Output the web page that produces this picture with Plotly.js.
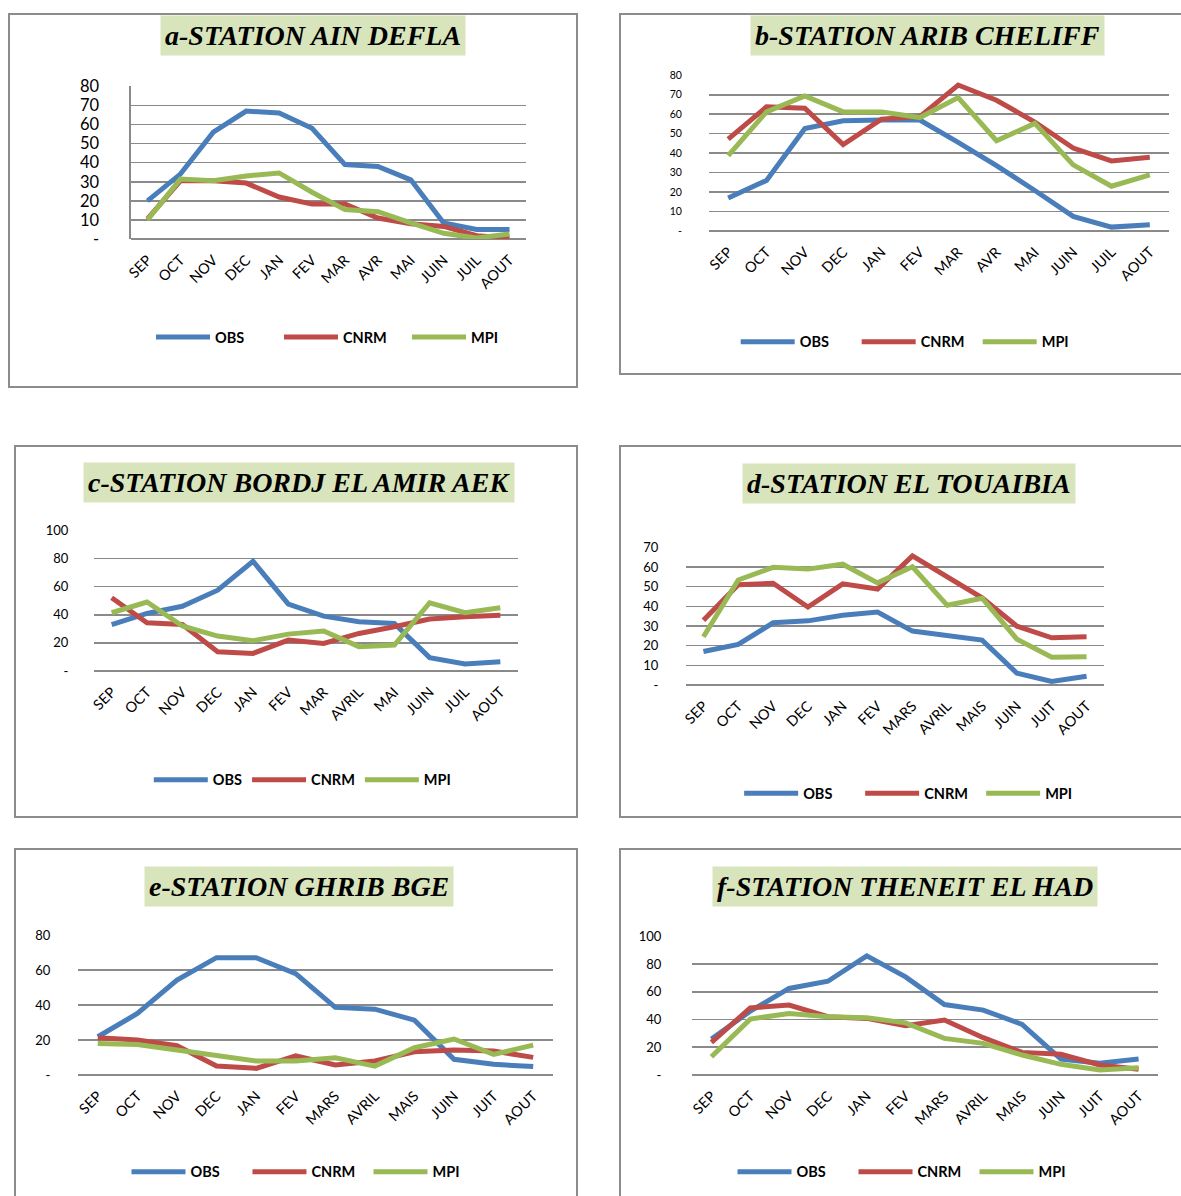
<!DOCTYPE html>
<html>
<head>
<meta charset="utf-8">
<script src="https://cdn.plot.ly/plotly-3.0.1.min.js"></script>
<style>
  html, body { margin: 0; padding: 0; background: #ffffff; }
  body { width: 1181px; height: 1196px; position: relative; overflow: hidden; }
  .panel { position: absolute; box-sizing: border-box; border: 2px solid #8c8c8c; background: #fff; }
</style>
</head>
<body>
<div id="pa" class="panel"></div>
<div id="pb" class="panel"></div>
<div id="pc" class="panel"></div>
<div id="pd" class="panel"></div>
<div id="pe" class="panel"></div>
<div id="pf" class="panel"></div>
<script>
// Month labels used on the category axes
const monthsA = ["SEP", "OCT", "NOV", "DEC", "JAN", "FEV", "MAR", "AVR", "MAI", "JUIN", "JUIL", "AOUT"];
const monthsC = ["SEP", "OCT", "NOV", "DEC", "JAN", "FEV", "MAR", "AVRIL", "MAI", "JUIN", "JUIL", "AOUT"];
const monthsD = ["SEP", "OCT", "NOV", "DEC", "JAN", "FEV", "MARS", "AVRIL", "MAIS", "JUIN", "JUIT", "AOUT"];

// a - Ain Defla
const obsA  = [20, 34, 56, 67, 66, 58, 39, 38, 31, 8.4, 5, 5];
const cnrmA = [10.5, 30.5, 30.5, 29.3, 22, 18.3, 18.3, 11, 8, 6.6, 1.7, 0.5];
const mpiA  = [10, 31.4, 30.5, 33, 34.6, 24.5, 15.4, 14.3, 8.4, 3, 0.5, 2.6];

// b - Arib Cheliff
const obsB  = [17, 26, 52.7, 56.6, 57, 57, 45.5, 33.6, 20.8, 7.5, 2, 3.2];
const cnrmB = [47.2, 63.8, 63.1, 44.4, 57.5, 58.8, 75, 67.2, 56, 42.6, 36, 37.9];
const mpiB  = [38.7, 61.2, 69.4, 61.2, 61.2, 58.3, 68.6, 46.4, 55.3, 34, 23, 28.8];

// c - Bordj El Amir AEK
const obsC  = [33, 41, 46, 57.4, 78, 47.5, 39, 35, 33.8, 9.5, 5, 6.6];
const cnrmC = [52, 34.3, 33, 13.7, 12.5, 22, 19.6, 26.7, 31.4, 36.9, 38.5, 39.7];
const mpiC  = [41.4, 49, 32, 24.8, 21.5, 26.2, 28.4, 17.3, 18.4, 48.5, 41.4, 45];

// d - El Touaibia
const obsD  = [17, 20.6, 31.6, 32.6, 35.4, 37.1, 27.4, 25, 22.8, 6, 1.8, 4.4];
const cnrmD = [32.9, 51, 51.7, 39.6, 51.4, 48.8, 65.6, 54.7, 44.3, 29.9, 24, 24.5];
const mpiD  = [24.5, 53.4, 59.8, 58.9, 61.4, 51.9, 60.1, 40.5, 44.1, 23.3, 14.1, 14.4];

// e - Ghrib BGE
const obsE  = [21.9, 35.2, 54.3, 67.2, 67.2, 58, 38.7, 37.7, 31.4, 9, 6.1, 4.8];
const cnrmE = [21.3, 20, 16.8, 5.1, 3.8, 10.9, 5.7, 8, 13.3, 14.3, 13.7, 10.1];
const mpiE  = [18.1, 17.5, 14.3, 11, 8, 8, 9.9, 5.1, 15.6, 20.6, 11.8, 17.1];

// f - Theneit El Had
const obsF  = [25.9, 46, 62.4, 67.6, 85.9, 70.7, 50.8, 46.8, 36.5, 11.5, 8.4, 11.5];
const cnrmF = [23.5, 48.4, 50.4, 42, 40.8, 35.5, 39.6, 26.9, 16.3, 14.9, 7.2, 4.1];
const mpiF  = [13.2, 40.3, 44.4, 42, 41.2, 37.6, 26.4, 22.8, 14.4, 7.7, 3.6, 5.3];

// y-axis tick values per station
const ticksA = [0, 10, 20, 30, 40, 50, 60, 70, 80];
const ticksB = [0, 10, 20, 30, 40, 50, 60, 70, 80];
const ticksC = [0, 20, 40, 60, 80, 100];
const ticksD = [0, 10, 20, 30, 40, 50, 60, 70];
const ticksE = [0, 20, 40, 60, 80];
const ticksF = [0, 20, 40, 60, 80, 100];

const seriesNames = ["OBS", "CNRM", "MPI"];
const seriesColors = ["#4A7EBB", "#BE4B48", "#98B954"];

const titles = [
  "a-STATION AIN DEFLA", "b-STATION ARIB CHELIFF", "c-STATION BORDJ EL AMIR AEK",
  "d-STATION EL TOUAIBIA", "e-STATION GHRIB BGE", "f-STATION THENEIT EL HAD"
];

function tickText(vals) { return vals.map(v => v === 0 ? "-" : String(v)); }

// Panel geometry: box position/size in page pixels, plot margins, title/legend centres (box pixels)
// lw = legend entry width (0 = sized from the label text)
const panels = [
  { id: "pa", box: [8, 13, 570, 375],  m: [121, 54, 71, 151],  title: [303, 20], legend: [333, 322], lw: 59, months: monthsA, data: [obsA, cnrmA, mpiA], ticks: ticksA, yfont: 16.5, ylen: 27, axisLine: true, tfont: 28 },
  { id: "pb", box: [619, 13, 580, 362], m: [87.5, 31.8, 59.7, 146], title: [306, 20], legend: [296, 327], lw: 52, months: monthsA, data: [obsB, cnrmB, mpiB], ticks: ticksB, yfont: 10.5, ylen: 24, axisLine: false, tfont: 28 },
  { id: "pc", box: [14, 445, 564, 373], m: [78.4, 62, 83.3, 148.7], title: [283.5, 36], legend: [287, 333], lw: 0, months: monthsC, data: [obsC, cnrmC, mpiC], ticks: ticksC, yfont: 13, ylen: 22, axisLine: false, tfont: 28 },
  { id: "pd", box: [619, 445, 580, 373], m: [65.3, 96.6, 99.7, 134.3], title: [288.5, 36], legend: [300, 346], lw: 52, months: monthsD, data: [obsD, cnrmD, mpiD], ticks: ticksD, yfont: 13, ylen: 24, axisLine: false, tfont: 28 },
  { id: "pe", box: [14, 848, 564, 360], m: [62.3, 27.3, 85.3, 134.7], title: [283, 36.5], legend: [292, 322], lw: 52, months: monthsD, data: [obsE, cnrmE, mpiE], ticks: ticksE, yfont: 13, ylen: 24, axisLine: false, tfont: 28 },
  { id: "pf", box: [619, 848, 580, 360], m: [71, 43, 86.3, 134.7], title: [283.5, 36.5], legend: [293, 322], lw: 52, months: monthsD, data: [obsF, cnrmF, mpiF], ticks: ticksF, yfont: 13, ylen: 27, axisLine: false, tfont: 28 }
];

panels.forEach((p, i) => {
  const el = document.getElementById(p.id);
  const [bx, by, bw, bh] = p.box;
  el.style.left = bx + "px"; el.style.top = by + "px";
  el.style.width = bw + "px"; el.style.height = bh + "px";

  const [l, r, t, b] = p.m;
  const pw = bw - l - r, ph = bh - t - b;
  const px = x => (x - l) / pw;
  const py = y => 1 - (y - t) / ph;

  const traces = p.data.map((vals, k) => ({
    type: "scatter", mode: "lines",
    x: p.months, y: vals, name: seriesNames[k],
    line: { color: seriesColors[k], width: 5 },
    hoverinfo: "skip"
  }));

  const ymax = p.ticks[p.ticks.length - 1];
  const layout = {
    width: bw, height: bh,
    margin: { l: l, r: r, t: t, b: b, pad: 0 },
    paper_bgcolor: "rgba(0,0,0,0)", plot_bgcolor: "rgba(0,0,0,0)",
    font: { family: "Lato, 'Liberation Sans', sans-serif", color: "#000" },
    showlegend: true,
    legend: {
      orientation: "h", x: px(p.legend[0]), y: py(p.legend[1]),
      xanchor: "center", yanchor: "middle",
      font: { size: 14.5, weight: "bold", color: "#000" },
      itemwidth: 54, entrywidth: p.lw, tracegroupgap: 0,
      bgcolor: "rgba(0,0,0,0)"
    },
    xaxis: {
      type: "category", range: [-0.5, 11.5],
      showgrid: false, zeroline: false, showline: false,
      tickangle: -45, tickfont: { size: 14.5 },
      ticks: "outside", ticklen: 6, tickcolor: "rgba(0,0,0,0)",
      fixedrange: true
    },
    yaxis: {
      range: [0, ymax * 1.002],
      tickvals: p.ticks, ticktext: tickText(p.ticks),
      showgrid: true, gridcolor: "#8a8a8a", gridwidth: 1.6,
      zeroline: true, zerolinecolor: "#8a8a8a", zerolinewidth: 1.6,
      showline: p.axisLine, linecolor: "#8a8a8a", linewidth: 1.6,
      tickfont: { size: p.yfont },
      ticks: "outside", ticklen: p.ylen, tickcolor: "rgba(0,0,0,0)",
      fixedrange: true
    },
    annotations: [{
      text: titles[i], xref: "paper", yref: "paper",
      x: px(p.title[0]), y: py(p.title[1]), xanchor: "center", yanchor: "middle",
      showarrow: false, bgcolor: "#D8E4BC", borderpad: 4,
      font: { family: "'Liberation Serif', 'DejaVu Serif', serif", size: p.tfont, weight: "bold", style: "italic", color: "#000" }
    }]
  };

  Plotly.newPlot(el, traces, layout, { staticPlot: true, displayModeBar: false });
});
</script>
</body>
</html>
